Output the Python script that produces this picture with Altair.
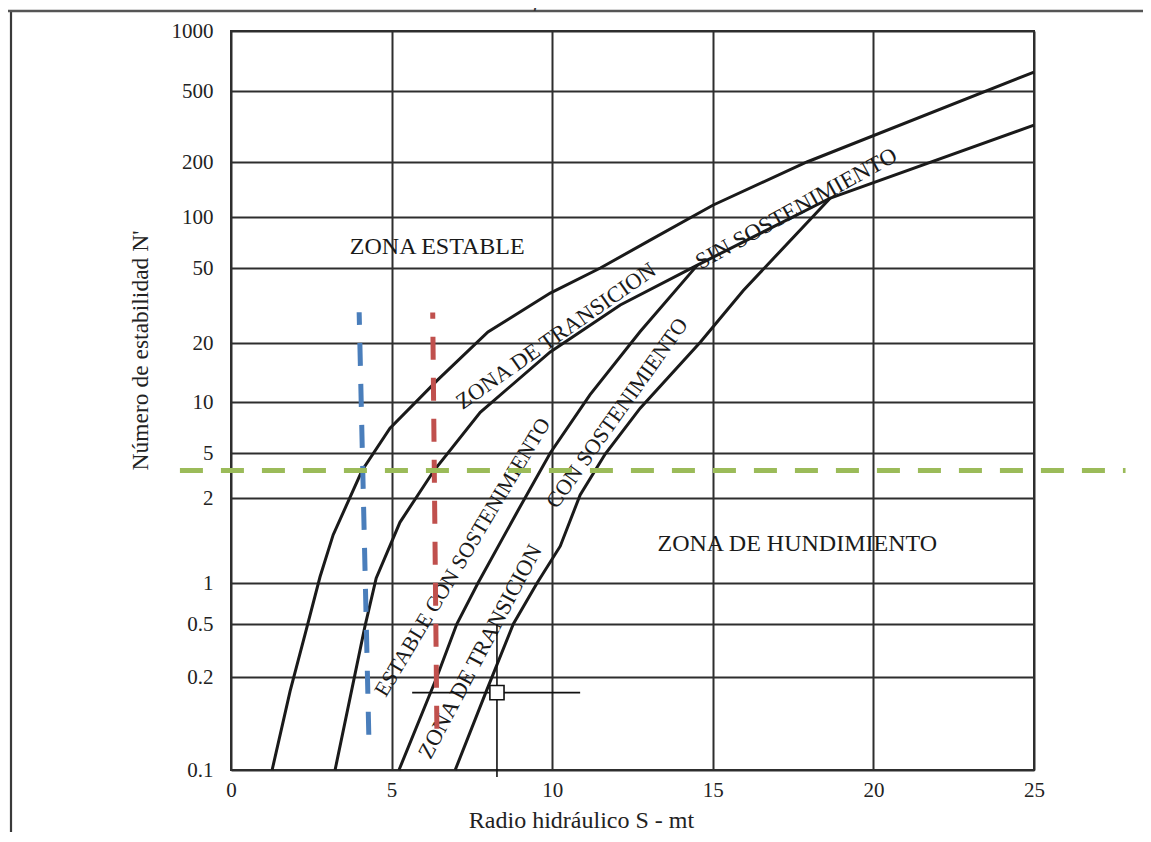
import altair as alt
import pandas as pd

FONT = "Liberation Serif"

# ---- axes ----
y_ticks = [0.1, 0.2, 0.5, 1, 2, 5, 10, 20, 50, 100, 200, 500, 1000]
y_pos = [739, 646, 593, 552, 467, 422, 371, 312, 237, 186, 131, 60, 0]  # irregular spacing of the printed grid
x_ticks = [0, 5, 10, 15, 20, 25]

# ---- boundary curves (S = radio hidráulico, N = número de estabilidad) ----
c1_S = [1.28, 1.84, 2.34, 2.77, 3.18, 4.08, 4.95, 6.42, 8.0, 9.94, 11.5, 13.05, 15.0, 17.93, 25.0]
c1_N = [0.1, 0.18, 0.45, 1.05, 1.48, 3.5, 7.0, 12.9, 22.9, 36.8, 50, 73, 116, 200, 622]

c2_S = [3.24, 4.17, 4.52, 5.26, 6.32, 7.76, 9.94, 12.12, 14.52, 18.66, 25.0]
c2_N = [0.1, 0.48, 1.04, 1.64, 3.5, 8.7, 18, 31.8, 52, 127, 322]

c3_S = [5.23, 6.41, 7.03, 7.69, 8.94, 9.94, 11.18, 12.74, 14.52]
c3_N = [0.1, 0.2, 0.5, 1.0, 1.81, 5.0, 10.9, 23, 52]

c4_S = [6.98, 7.94, 8.79, 9.53, 10.25, 10.87, 11.65, 12.74, 14.61, 15.95, 18.66]
c4_N = [0.1, 0.179, 0.5, 1.0, 1.35, 2.13, 4.9, 9.2, 20.2, 38, 127]

# ---- dashed reference lines (listed bottom/left first) ----
blue_S = [4.29, 3.99]
blue_N = [0.13, 29.1]
red_S = [6.41, 6.28]
red_N = [0.136, 29.0]
green_S = [-1.59, 27.85]
green_N = [3.5, 3.5]

# ---- crosshair and marker ----
cross_h_S = [5.64, 10.87]
cross_h_N = 0.178
cross_v_S = 8.28
cross_v_N = [0.5, 0.095]
marker_S = [8.28]
marker_N = [0.178]

# ---- zone labels ----
label_text = ["ZONA ESTABLE", "ZONA DE HUNDIMIENTO", "ZONA DE TRANSICION", "SIN SOSTENIMIENTO",
              "ESTABLE CON SOSTENIMIENTO", "CON SOSTENIMIENTO", "ZONA DE TRANSICION"]
label_S = [6.42, 17.63, 10.12, 17.6, 7.23, 12.02, 7.76]
label_N = [66.5, 1.37, 21.8, 111, 1.23, 8.6, 0.31]
label_angle = [0, 0, 325, 331, 301, 305.5, 298]
label_size = [24, 24, 22.5, 23, 21.5, 22, 22.5]

# ---- data tables ----
curves = pd.concat([
    pd.DataFrame({"S": c1_S, "N": c1_N, "curve": "c1"}),
    pd.DataFrame({"S": c2_S, "N": c2_N, "curve": "c2"}),
    pd.DataFrame({"S": c3_S, "N": c3_N, "curve": "c3"}),
    pd.DataFrame({"S": c4_S, "N": c4_N, "curve": "c4"}),
], ignore_index=True)

def dashed(S, N):
    return pd.DataFrame({"S": S, "N": N, "i": list(range(len(S)))})

labels = pd.DataFrame({"S": label_S, "N": label_N, "t": label_text,
                       "ang": label_angle, "fs": label_size})
one = pd.DataFrame({"a": [0]})

xscale = alt.Scale(domain=[0, 25], nice=False, zero=False)
yscale = alt.Scale(type="log", domain=y_ticks, range=y_pos, nice=False)

xaxis = alt.Axis(values=x_ticks, title="Radio hidráulico S - mt", grid=True, ticks=False, tickSize=0,
                 domain=False, labelFont=FONT, labelFontSize=21, labelColor="#222", labelPadding=9,
                 labelFlush=False, labelOverlap=False,
                 titleFont=FONT, titleFontSize=24, titleFontWeight="normal", titleColor="#222",
                 titleX=350, titleY=57, titleAlign="center", titleBaseline="alphabetic",
                 gridColor="#2e2e2e", gridWidth=2)
yaxis = alt.Axis(values=y_ticks, format="~g", title="Número de estabilidad N'", grid=True, ticks=False,
                 tickSize=0, domain=False, labelFont=FONT, labelFontSize=21, labelColor="#222",
                 labelPadding=18, labelFlush=False, labelOverlap=False,
                 titleFont=FONT, titleFontSize=23.5, titleFontWeight="normal", titleColor="#222",
                 titleAngle=270, titleX=-91, titleY=319, titleAlign="center", titleBaseline="middle",
                 gridColor="#2e2e2e", gridWidth=2)

X = alt.X("S:Q", scale=xscale, axis=xaxis)
Y = alt.Y("N:Q", scale=yscale, axis=yaxis)

curve_layer = alt.Chart(curves).mark_line(color="#1a1a1a", strokeWidth=3).encode(
    x=X, y=Y, detail="curve:N")

def dash_layer(df, color):
    return alt.Chart(df).mark_line(color=color, strokeWidth=5, strokeDash=[23, 18]).encode(
        x=X, y=Y, order="i:Q")

blue = dash_layer(dashed(blue_S, blue_N), "#4a7ebb")
red = dash_layer(dashed(red_S, red_N), "#c0504d")
green = dash_layer(dashed(green_S, green_N), "#9bbb59")

ch = alt.Chart(pd.DataFrame({"S": [cross_h_S[0]], "S2": [cross_h_S[1]], "N": [cross_h_N]})).mark_rule(
    color="#111", strokeWidth=1.6).encode(x=X, x2="S2:Q", y=Y)
cv = alt.Chart(pd.DataFrame({"S": [cross_v_S], "N": [cross_v_N[0]], "N2": [cross_v_N[1]]})).mark_rule(
    color="#111", strokeWidth=1.6).encode(x=X, y=Y, y2="N2:Q")
marker = alt.Chart(pd.DataFrame({"S": marker_S, "N": marker_N})).mark_point(
    shape="square", size=200, filled=True, fill="white", stroke="#111", strokeWidth=1.6, opacity=1).encode(
    x=X, y=Y)

text_layer = alt.Chart(labels).mark_text(font=FONT, color="#1a1a1a", align="center", baseline="middle").encode(
    x=X, y=Y, text="t:N", angle=alt.Angle("ang:Q", scale=None), size=alt.Size("fs:Q", scale=None))

frame_left = alt.Chart(one).mark_rule(color="#3a3a3a", strokeWidth=2.2).encode(
    x=alt.value(-220), y=alt.value(-19), y2=alt.value(830))
frame_top = alt.Chart(one).mark_rule(color="#555", strokeWidth=2.6).encode(
    x=alt.value(-230), x2=alt.value(930), y=alt.value(-20))
top_title = alt.Chart(one).mark_text(text="Gráfico de estabilidad", font=FONT, fontStyle="italic",
                                     fontSize=22, color="#333", align="center", baseline="alphabetic").encode(
    x=alt.value(366), y=alt.value(-25))

chart = alt.layer(
    curve_layer, text_layer, ch, cv, marker, blue, red, green, frame_left, frame_top, top_title
).properties(
    width=803, height=739,
    autosize=alt.AutoSizeParams(type="none"),
    padding={"left": 223, "top": 23, "right": 109, "bottom": 62},
    background="white",
).configure_view(stroke="#2e2e2e", strokeWidth=2)

chart.save("out.html", embed_options={"renderer": "svg", "actions": False})
